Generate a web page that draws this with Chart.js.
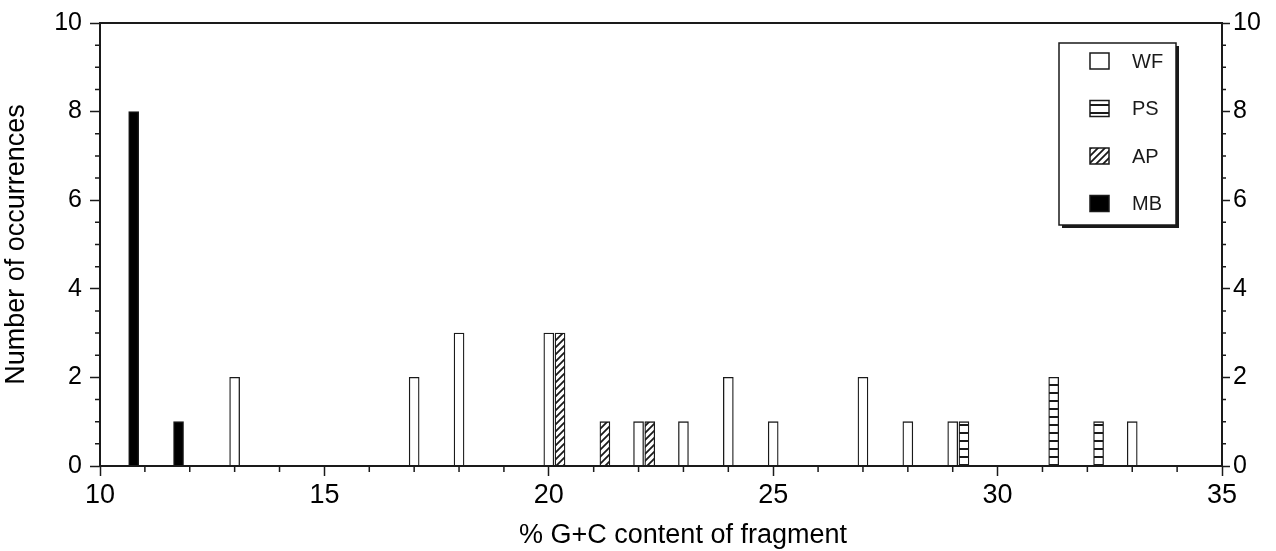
<!DOCTYPE html>
<html lang="en">
  <head>
    <meta charset="UTF-8" />
    <title>G+C content of fragments</title>
    <script src="https://cdn.jsdelivr.net/npm/chart.js"></script>
    <style>
      body { margin: 0; background: #fff; }
      #box { width: 1276px; height: 551px; }
    </style>
  </head>
  <body>
    <div id="box"><canvas id="grafico"></canvas></div>

    <script>
      // valores
      var seriesNames = ["WF", "PS", "AP", "MB"];
      var wfGC = [13, 17, 18, 20, 22, 23, 24, 25, 27, 28, 29, 33];
      var wfCount = [2, 2, 3, 3, 1, 1, 2, 1, 2, 1, 1, 1];
      var psGC = [29.25, 31.25, 32.25];
      var psCount = [1, 2, 1];
      var apGC = [20.25, 21.25, 22.25];
      var apCount = [3, 1, 1];
      var mbGC = [10.75, 11.75];
      var mbCount = [8, 1];
      var xTicks = [10, 15, 20, 25, 30, 35];
      var yTicks = [0, 2, 4, 6, 8, 10];
      var xTitulo = "% G+C content of fragment";
      var yTitulo = "Number of occurrences";

      var ink = "#1a1a1a";
      var fonte = "'Liberation Sans', Arial, Helvetica, sans-serif";

      function pontos(xs, ys) {
        var out = [];
        for (var i = 0; i < xs.length; i++) out.push({ x: xs[i], y: ys[i] });
        return out;
      }

      // hachuras
      function listras() {
        var c = document.createElement("canvas");
        c.width = 8; c.height = 8;
        var g = c.getContext("2d");
        g.fillStyle = "#fff"; g.fillRect(0, 0, 8, 8);
        g.fillStyle = ink; g.fillRect(0, 0, 8, 2);
        return g.createPattern(c, "repeat");
      }
      function diagonais() {
        var s = 7;
        var c = document.createElement("canvas");
        c.width = s; c.height = s;
        var g = c.getContext("2d");
        g.fillStyle = "#fff"; g.fillRect(0, 0, s, s);
        g.strokeStyle = ink; g.lineWidth = 1.8;
        g.beginPath();
        g.moveTo(-1, s + 1); g.lineTo(s + 1, -1);
        g.moveTo(-1, 1); g.lineTo(1, -1);
        g.moveTo(s - 1, s + 1); g.lineTo(s + 1, s - 1);
        g.stroke();
        return g.createPattern(c, "repeat");
      }

      var fills = ["#ffffff", listras(), diagonais(), "#000000"];

      // ticks menores + moldura + titulo do eixo x
      var minorTicks = {
        id: "minorTicks",
        afterDraw: function (chart) {
          var ctx = chart.ctx, a = chart.chartArea;
          var x = chart.scales.x, y = chart.scales.y;
          ctx.save();
          ctx.strokeStyle = ink;
          ctx.lineWidth = 1.5;
          ctx.beginPath();
          for (var v = 10; v <= 35; v++) {
            if (v % 5 === 0) continue;
            var px = x.getPixelForValue(v);
            ctx.moveTo(px, a.bottom); ctx.lineTo(px, a.bottom + 6);
          }
          for (var w = 0; w <= 10; w += 0.5) {
            if (w % 2 === 0) continue;
            var py = y.getPixelForValue(w);
            ctx.moveTo(a.left - 5, py); ctx.lineTo(a.left, py);
            ctx.moveTo(a.right, py); ctx.lineTo(a.right + 4, py);
          }
          ctx.stroke();
          ctx.lineWidth = 2;
          ctx.strokeRect(a.left, a.top, a.right - a.left, a.bottom - a.top);

          ctx.fillStyle = "#000";
          ctx.font = "27px " + fonte;
          ctx.textAlign = "center";
          ctx.textBaseline = "alphabetic";
          ctx.fillText(xTitulo, (a.left + a.right) / 2 + 22, a.bottom + 77);
          ctx.restore();
        },
      };

      // legenda em caixa com sombra
      var legendaBox = {
        id: "legendaBox",
        afterDraw: function (chart) {
          var ctx = chart.ctx, a = chart.chartArea;
          var bx = a.right - 163, by = a.top + 20, bw = 117, bh = 182;
          ctx.save();
          ctx.fillStyle = ink;
          ctx.fillRect(bx + 3, by + 3, bw, bh);
          ctx.fillStyle = "#fff";
          ctx.fillRect(bx, by, bw, bh);
          ctx.strokeStyle = ink;
          ctx.lineWidth = 1.5;
          ctx.strokeRect(bx, by, bw, bh);
          ctx.font = "20px " + fonte;
          ctx.textBaseline = "middle";
          chart.data.datasets.forEach(function (ds, i) {
            var cy = by + 18 + i * 47.5;
            ctx.fillStyle = ds.backgroundColor;
            ctx.fillRect(bx + 31, cy - 8, 19, 16);
            ctx.strokeRect(bx + 31, cy - 8, 19, 16);
            ctx.fillStyle = ink;
            ctx.fillText(ds.label, bx + 73, cy + 1);
          });
          ctx.restore();
        },
      };

      var dados = {
        datasets: [
          { label: seriesNames[0], data: pontos(wfGC, wfCount) },
          { label: seriesNames[1], data: pontos(psGC, psCount) },
          { label: seriesNames[2], data: pontos(apGC, apCount) },
          { label: seriesNames[3], data: pontos(mbGC, mbCount) },
        ],
      };
      dados.datasets.forEach(function (ds, i) {
        ds.backgroundColor = fills[i];
        ds.borderColor = ink;
        ds.borderWidth = 1.3;
        ds.borderSkipped = "start";
        ds.barThickness = 10;
        ds.grouped = false;
      });

      var eixoY = function (pos, largura) {
        return {
          position: pos,
          min: 0,
          max: 10,
          afterFit: function (s) { s.width = largura; },
          afterBuildTicks: function (s) {
            s.ticks = yTicks.map(function (v) { return { value: v }; });
          },
          border: { display: false },
          grid: { drawOnChartArea: false, tickLength: pos === "left" ? 10 : 8, tickColor: ink, tickWidth: 1.5 },
          ticks: { color: "#000", font: { family: fonte, size: 25 }, padding: pos === "left" ? 8 : 3 },
        };
      };

      var config = {
        type: "bar",
        data: dados,
        plugins: [minorTicks, legendaBox],
        options: {
          responsive: true,
          maintainAspectRatio: false,
          animation: false,
          layout: { padding: { top: 20, right: 0, left: 0, bottom: 0 } },
          plugins: { legend: { display: false }, tooltip: { enabled: false } },
          scales: {
            x: {
              type: "linear",
              min: 10,
              max: 35,
              offset: false,
              afterFit: function (s) { s.height = 85; },
              afterBuildTicks: function (s) {
                s.ticks = xTicks.map(function (v) { return { value: v }; });
              },
              border: { display: false },
              grid: { offset: false, drawOnChartArea: false, tickLength: 10, tickColor: ink, tickWidth: 1.5 },
              ticks: { color: "#000", font: { family: fonte, size: 27 }, padding: 3, maxRotation: 0 },
            },
            y: Object.assign(eixoY("left", 100), {
              title: {
                display: true,
                text: yTitulo,
                color: "#000",
                font: { family: fonte, size: 27, lineHeight: 1.1 },
                padding: { top: 2, bottom: 0 },
              },
            }),
            y2: eixoY("right", 54),
          },
        },
      };

      var myChart = new Chart(document.getElementById("grafico"), config);
    </script>
  </body>
</html>
